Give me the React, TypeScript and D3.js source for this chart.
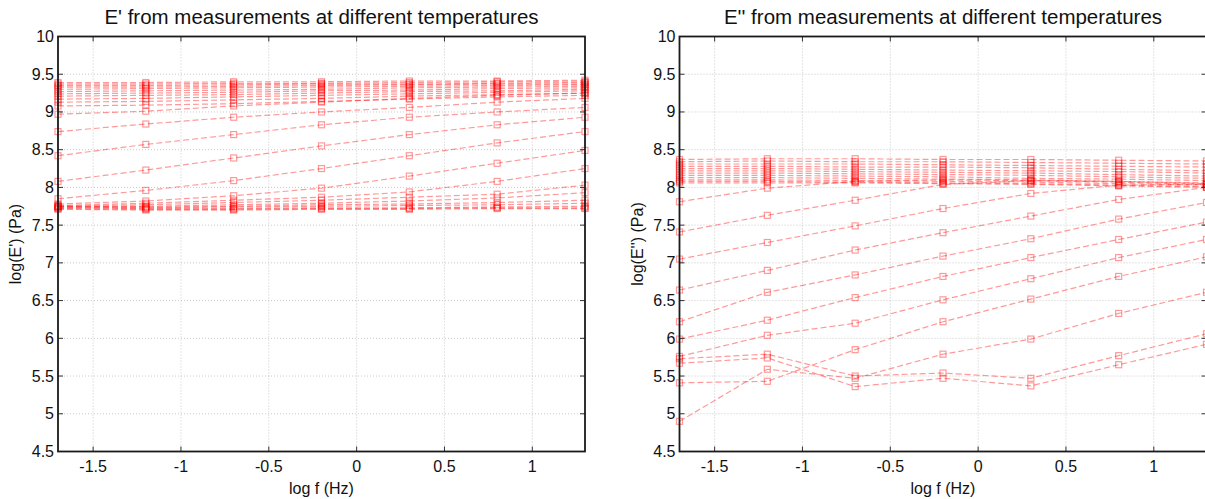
import React from 'react';
import * as d3 from 'd3';

// log frequency values (Hz) at which each temperature was measured
const logF = [-1.7, -1.2, -0.7, -0.2, 0.3, 0.8, 1.3];
const xTicks = [-1.5, -1, -0.5, 0, 0.5, 1];
const yTicks = [4.5, 5, 5.5, 6, 6.5, 7, 7.5, 8, 8.5, 9, 9.5, 10];

// E' — glassy plateau curves
const storageTop = [
  [9.39, 9.39, 9.4, 9.4, 9.41, 9.41, 9.42],
  [9.37, 9.37, 9.38, 9.38, 9.39, 9.4, 9.4],
  [9.35, 9.35, 9.36, 9.37, 9.37, 9.38, 9.39],
  [9.33, 9.33, 9.34, 9.35, 9.36, 9.37, 9.37],
  [9.3, 9.31, 9.32, 9.33, 9.34, 9.35, 9.36],
  [9.27, 9.28, 9.29, 9.3, 9.32, 9.33, 9.34],
  [9.24, 9.25, 9.26, 9.28, 9.29, 9.31, 9.32],
  [9.21, 9.22, 9.23, 9.25, 9.27, 9.28, 9.3],
  [9.17, 9.18, 9.2, 9.22, 9.24, 9.26, 9.28],
  [9.13, 9.14, 9.16, 9.18, 9.21, 9.23, 9.25],
  [9.08, 9.09, 9.11, 9.14, 9.17, 9.2, 9.22],
];
// E' — transition curves
const storageMid = [
  [8.97, 9.01, 9.08, 9.13, 9.18, 9.22, 9.25],
  [8.74, 8.84, 8.93, 9.0, 9.06, 9.13, 9.18],
  [8.42, 8.57, 8.7, 8.83, 8.93, 9.0, 9.06],
  [8.08, 8.23, 8.39, 8.55, 8.7, 8.83, 8.93],
  [7.85, 7.96, 8.09, 8.25, 8.42, 8.59, 8.74],
  [7.78, 7.82, 7.89, 7.99, 8.15, 8.32, 8.49],
  [7.76, 7.79, 7.83, 7.87, 7.94, 8.08, 8.25],
  [7.75, 7.77, 7.8, 7.83, 7.87, 7.91, 8.03],
  [7.74, 7.75, 7.77, 7.79, 7.82, 7.86, 7.93],
];
// E' — rubbery plateau curves
const storageLow = [
  [7.75, 7.74, 7.75, 7.77, 7.78, 7.8, 7.83],
  [7.74, 7.73, 7.74, 7.75, 7.76, 7.77, 7.79],
  [7.73, 7.72, 7.72, 7.73, 7.73, 7.74, 7.75],
  [7.72, 7.71, 7.71, 7.72, 7.72, 7.73, 7.73],
  [7.71, 7.7, 7.7, 7.71, 7.71, 7.72, 7.72],
];

// E'' — upper band curves
const lossTop = [
  [8.37, 8.38, 8.38, 8.37, 8.37, 8.36, 8.35],
  [8.34, 8.35, 8.34, 8.34, 8.33, 8.32, 8.31],
  [8.31, 8.31, 8.31, 8.3, 8.29, 8.28, 8.27],
  [8.28, 8.28, 8.27, 8.27, 8.26, 8.24, 8.22],
  [8.25, 8.25, 8.24, 8.23, 8.22, 8.21, 8.19],
  [8.22, 8.22, 8.21, 8.2, 8.19, 8.17, 8.15],
  [8.19, 8.19, 8.18, 8.17, 8.16, 8.14, 8.12],
  [8.16, 8.16, 8.15, 8.14, 8.12, 8.11, 8.09],
  [8.13, 8.13, 8.12, 8.11, 8.1, 8.08, 8.06],
  [8.1, 8.1, 8.09, 8.08, 8.07, 8.05, 8.03],
  [8.08, 8.08, 8.07, 8.06, 8.05, 8.03, 8.01],
  [8.06, 8.06, 8.06, 8.05, 8.04, 8.02, 8.0],
];
// E'' — rising curves
const lossMid = [
  [7.81, 7.99, 8.08, 8.1, 8.09, 8.07, 8.04],
  [7.41, 7.63, 7.83, 8.04, 8.09, 8.08, 8.05],
  [7.05, 7.27, 7.49, 7.72, 7.92, 8.03, 8.04],
  [6.64, 6.9, 7.17, 7.4, 7.62, 7.84, 8.0],
  [6.22, 6.61, 6.84, 7.09, 7.32, 7.58, 7.8],
  [5.99, 6.24, 6.54, 6.82, 7.07, 7.31, 7.54],
  [5.76, 6.04, 6.2, 6.51, 6.79, 7.07, 7.31],
  [5.41, 5.43, 5.85, 6.22, 6.52, 6.82, 7.08],
];
// E'' — lowest curves
const lossLow = [
  [4.9, 5.59, 5.47, 5.79, 5.99, 6.33, 6.61],
  [5.73, 5.79, 5.5, 5.54, 5.47, 5.77, 6.06],
  [5.67, 5.74, 5.36, 5.47, 5.37, 5.65, 5.92],
];

const FONT = 'Arial, "Liberation Sans", Helvetica, sans-serif';
const PLOT_W = 527;
const TOP = 36.5;
const BOTTOM = 451.5;

type PanelProps = {
  left: number;
  title: string;
  ylabel: string;
  series: number[][];
};

function Panel({ left, title, ylabel, series }: PanelProps) {
  const x = d3.scaleLinear().domain([-1.7, 1.3]).range([left, left + PLOT_W]);
  const y = d3.scaleLinear().domain([4.5, 10]).range([BOTTOM, TOP]);
  const line = d3
    .line<number>()
    .x((_, i) => x(logF[i]))
    .y((d) => y(d));
  const ms = 6;
  const cx = left + PLOT_W / 2;
  return (
    <g>
      <text x={cx} y={24} textAnchor="middle" fontSize={20.5} fontFamily={FONT} fill="#111">
        {title}
      </text>
      {/* grid */}
      {xTicks.map((t) => (
        <line key={'gx' + t} x1={x(t)} x2={x(t)} y1={TOP} y2={BOTTOM} stroke="#c4c4c4" strokeWidth={0.9} strokeDasharray="1,2" />
      ))}
      {yTicks.map((t) => (
        <line key={'gy' + t} x1={left} x2={left + PLOT_W} y1={y(t)} y2={y(t)} stroke="#c4c4c4" strokeWidth={0.9} strokeDasharray="1,2" />
      ))}
      {/* series */}
      {series.map((s, k) => (
        <g key={'s' + k}>
          <path d={line(s) || ''} fill="none" stroke="#ff0000" strokeOpacity={0.4} strokeWidth={1.2} strokeDasharray="6,3" />
          {s.map((v, i) => (
            <rect
              key={i}
              x={x(logF[i]) - ms / 2}
              y={y(v) - ms / 2}
              width={ms}
              height={ms}
              fill="none"
              stroke="#ff0000"
              strokeOpacity={0.4}
              strokeWidth={1.2}
            />
          ))}
        </g>
      ))}
      {/* ticks */}
      {yTicks.map((t) => (
        <g key={'ty' + t}>
          <line x1={left} x2={left + 5} y1={y(t)} y2={y(t)} stroke="#333" strokeWidth={1} />
          <line x1={left + PLOT_W - 5} x2={left + PLOT_W} y1={y(t)} y2={y(t)} stroke="#333" strokeWidth={1} />
          <text x={left - 4} y={y(t) + 5.5} textAnchor="end" fontSize={16} fontFamily={FONT} fill="#111">
            {t}
          </text>
        </g>
      ))}
      {xTicks.map((t) => (
        <g key={'tx' + t}>
          <line x1={x(t)} x2={x(t)} y1={BOTTOM} y2={BOTTOM - 5} stroke="#333" strokeWidth={1} />
          <line x1={x(t)} x2={x(t)} y1={TOP} y2={TOP + 5} stroke="#333" strokeWidth={1} />
          <text x={x(t)} y={472} textAnchor="middle" fontSize={16} fontFamily={FONT} fill="#111">
            {t}
          </text>
        </g>
      ))}
      {/* frame */}
      <rect x={left} y={TOP} width={PLOT_W} height={BOTTOM - TOP} fill="none" stroke="#1a1a1a" strokeWidth={1.8} />
      <text x={cx} y={494} textAnchor="middle" fontSize={16} fontFamily={FONT} fill="#111">
        log f (Hz)
      </text>
      <text
        transform={`translate(${left - 37},${(TOP + BOTTOM) / 2}) rotate(-90)`}
        textAnchor="middle"
        fontSize={16}
        fontFamily={FONT}
        fill="#111"
      >
        {ylabel}
      </text>
    </g>
  );
}

export default function App() {
  const storage = [...storageTop, ...storageMid, ...storageLow];
  const loss = [...lossTop, ...lossMid, ...lossLow];
  return (
    <svg
      width={1205}
      height={499}
      viewBox="0 0 1205 499"
      style={{ position: 'absolute', left: 0, top: 0, background: '#fff' }}
    >
      <rect x={0} y={0} width={1205} height={499} fill="#fff" />
      <Panel left={58} title="E' from measurements at different temperatures" ylabel="log(E') (Pa)" series={storage} />
      <Panel left={679.5} title="E'' from measurements at different temperatures" ylabel="log(E'') (Pa)" series={loss} />
    </svg>
  );
}
